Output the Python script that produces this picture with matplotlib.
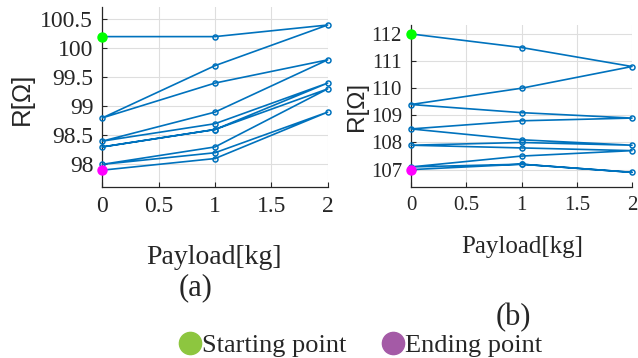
import matplotlib
matplotlib.use("Agg")
import matplotlib.pyplot as plt
from matplotlib.lines import Line2D

# ---- data ----
payload_a = [0, 1, 2, 1, 0, 1, 2, 1, 0, 1, 2, 1, 0, 1, 2, 1, 0, 1, 2, 1, 0]
resist_a = [100.2, 100.2, 100.4, 99.7, 98.8, 99.4, 99.8, 98.9, 98.4, 98.7,
            99.4, 98.6, 98.3, 98.6, 99.3, 98.3, 98.0, 98.2, 98.9, 98.1, 97.9]
payload_b = [0, 1, 2, 1, 0, 1, 2, 1, 0, 1, 2, 1, 0, 1, 2, 1, 0, 1, 2, 1, 0]
resist_b = [112.0, 111.5, 110.8, 110.0, 109.4, 109.1, 108.9, 108.8, 108.5, 108.1,
            107.9, 108.0, 107.9, 107.8, 107.7, 107.5, 107.1, 107.2, 106.9, 107.2, 107.0]
xticks = [0, 0.5, 1, 1.5, 2]
xticklabels = ["0", "0.5", "1", "1.5", "2"]
yticks_a = [98, 98.5, 99, 99.5, 100, 100.5]
yticklabels_a = ["98", "98.5", "99", "99.5", "100", "100.5"]
yticks_b = [107, 108, 109, 110, 111, 112]
yticklabels_b = ["107", "108", "109", "110", "111", "112"]
legend_labels = ["Starting point", "Ending point"]

W, H = 638, 358
fig = plt.figure(figsize=(W / 100, H / 100), dpi=100)
SERIF = "Liberation Serif"
SANS = "Liberation Sans"
LINE = "#0072BD"
AX = "#262626"


def px(x0, y0, x1, y1):
    return [x0 / W, 1 - y1 / H, (x1 - x0) / W, (y1 - y0) / H]


def setup(ax, xs, ys, yt, ytl, ylim, tick_fs, ylab_fs):
    ax.plot(xs, ys, color=LINE, lw=1.2, marker="o", ms=3.6, mfc="none",
            mew=1.1, zorder=3, clip_on=False)
    ax.plot(xs[0], ys[0], "o", color="#00FF00", ms=6.5, zorder=5, clip_on=False)
    ax.plot(xs[-1], ys[-1], "o", color="#FF00FF", ms=6.5, zorder=5, clip_on=False)
    ax.set_xlim(0, 2)
    ax.set_ylim(*ylim)
    ax.set_xticks(xticks)
    ax.set_xticklabels(xticklabels, fontfamily=SERIF, fontsize=tick_fs)
    ax.set_yticks(yt)
    ax.set_yticklabels(ytl, fontfamily=SERIF, fontsize=tick_fs)
    ax.grid(True, color="#DEDEDE", lw=0.8)
    ax.set_axisbelow(True)
    for s in ["top", "right"]:
        ax.spines[s].set_visible(False)
    for s in ["left", "bottom"]:
        ax.spines[s].set_color(AX)
        ax.spines[s].set_linewidth(0.9)
    ax.tick_params(direction="in", length=3.6, width=0.8, color=AX,
                   labelcolor=AX, pad=6.5)
    ax.patch.set_alpha(0)


ax1 = fig.add_axes(px(102.3, 7, 327.7, 187))
setup(ax1, payload_a, resist_a, yticks_a, yticklabels_a, (97.61, 100.71), 17, 18.5)
ax2 = fig.add_axes(px(411, 25, 632, 187))
setup(ax2, payload_b, resist_b, yticks_b, yticklabels_b, (106.36, 112.33), 15, 17.5)


def ftext(x, y, s, **kw):
    fig.text(x / W, 1 - y / H, s, **kw)


ftext(21.7, 98.5, "R[\u03a9]", rotation=90, ha="center", va="center",
      fontfamily=SANS, fontsize=18.5, color=AX)
ftext(357.5, 106.7, "R[\u03a9]", rotation=90, ha="center", va="center",
      fontfamily=SANS, fontsize=17.5, color=AX)
ftext(214, 257, "Payload[kg]", ha="center", va="center", fontfamily=SERIF,
      fontsize=20, color=AX)
ftext(522, 247, "Payload[kg]", ha="center", va="center", fontfamily=SERIF,
      fontsize=18, color=AX)
ftext(196, 288, "(a)", ha="center", va="center", fontfamily=SERIF,
      fontsize=22, color=AX)
ftext(513, 318, "(b)", ha="center", va="center", fontfamily=SERIF,
      fontsize=22, color=AX)

# legend
leg_colors = ["#8DC63F", "#A45AA6"]
leg_x = [190, 392.5]
for cx, col, lab in zip(leg_x, leg_colors, legend_labels):
    fig.add_artist(Line2D([cx / W], [1 - 343 / H], marker="o", ms=16,
                          color=col, lw=0, transform=fig.transFigure))
    ftext(cx + 12.5, 351.7, lab, ha="left", va="baseline", fontfamily=SERIF,
          fontsize=19, color=AX)

fig.savefig("out.png", dpi=100)
